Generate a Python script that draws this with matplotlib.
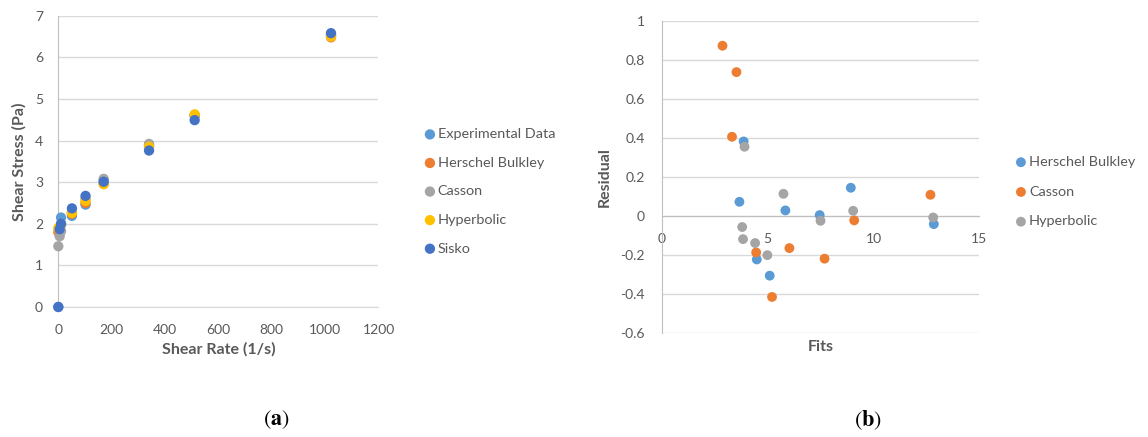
import numpy as np
import matplotlib.pyplot as plt

plt.rcParams['font.family'] = ['Lato', 'DejaVu Sans']
plt.rcParams['axes.unicode_minus'] = False

# (a) flow curve: shear rate vs shear stress
shear_rate = [0, 5.1, 10.2, 51, 102, 170, 340, 511, 1022]
experimental = [0, 1.88, 2.15, 2.19, 2.46, 3.04, 3.90, 4.60, 6.55]
herschel_bulkley = [1.80, 1.88, 1.98, 2.24, 2.50, 2.96, 3.86, 4.60, 6.48]
casson = [1.46, 1.70, 1.82, 2.28, 2.60, 3.08, 3.92, 4.60, 6.52]
hyperbolic = [1.90, 1.92, 1.99, 2.26, 2.55, 2.95, 3.85, 4.63, 6.50]
sisko = [0, 1.87, 2.00, 2.37, 2.67, 3.01, 3.76, 4.49, 6.58]

# (b) residuals vs fits
hb_fits = [3.87, 3.67, 4.49, 5.10, 5.84, 7.46, 8.93, 12.85]
hb_resid = [0.382, 0.073, -0.222, -0.305, 0.029, 0.005, 0.145, -0.041]
casson_fits = [2.87, 3.53, 3.32, 4.46, 5.21, 6.03, 7.69, 9.09, 12.69]
casson_resid = [0.872, 0.737, 0.406, -0.186, -0.414, -0.164, -0.218, -0.022, 0.109]
hyp_fits = [3.91, 3.80, 3.84, 4.41, 4.99, 5.75, 7.50, 9.04, 12.82]
hyp_resid = [0.355, -0.056, -0.118, -0.138, -0.200, 0.114, -0.024, 0.027, -0.007]

BLUE = '#5B9BD5'
ORANGE = '#ED7D31'
GRAY = '#A5A5A5'
YELLOW = '#FFC000'
DARK_BLUE = '#4472C4'
TEXT = '#595959'
GRID = '#D9D9D9'


def style_axes(ax):
    for side in ['top', 'right']:
        ax.spines[side].set_visible(False)
    ax.spines['left'].set_color('#BFBFBF')
    ax.spines['bottom'].set_color('#BFBFBF')
    ax.grid(True, axis='y', color=GRID, linewidth=1)
    ax.set_axisbelow(True)
    ax.tick_params(length=0, colors=TEXT, labelsize=10)


fig = plt.figure(figsize=(11.48, 4.37), dpi=100)

# ---- left chart ----
ax1 = fig.add_axes([0.0508, 0.2975, 0.2789, 0.6666])
style_axes(ax1)
series = [
    (experimental, BLUE, 'Experimental Data'),
    (herschel_bulkley, ORANGE, 'Herschel Bulkley'),
    (casson, GRAY, 'Casson'),
    (hyperbolic, YELLOW, 'Hyperbolic'),
    (sisko, DARK_BLUE, 'Sisko'),
]
for values, color, label in series:
    ax1.scatter(shear_rate, values, s=55, color=color, label=label,
                edgecolors='none', clip_on=False, zorder=3)
ax1.set_xlim(0, 1200)
ax1.set_ylim(0, 7)
ax1.set_xticks(np.arange(0, 1201, 200))
ax1.set_yticks(np.arange(0, 8, 1))
ax1.tick_params(axis='x', pad=12)
ax1.tick_params(axis='y', pad=11)
ax1.spines['bottom'].set_color(GRID)
ax1.set_xlabel('Shear Rate (1/s)', fontsize=11.5, fontweight='bold', color=TEXT)
ax1.set_ylabel('Shear Stress (Pa)', fontsize=11.5, fontweight='bold', color=TEXT)
ax1.xaxis.set_label_coords(0.5, -0.122)
ax1.yaxis.set_label_coords(-0.10, 0.5)
ax1.legend(loc='upper left', bbox_to_anchor=(1.12, 0.634), frameon=False,
           fontsize=10.4, labelcolor=TEXT, handletextpad=0.05,
           handlelength=1.0, labelspacing=1.14, borderaxespad=0)

# ---- right chart ----
ax2 = fig.add_axes([0.5764, 0.2373, 0.2767, 0.7153])
style_axes(ax2)
ax2.scatter(hb_fits, hb_resid, s=50, color=BLUE, label='Herschel Bulkley',
            edgecolors='none', zorder=3)
ax2.scatter(casson_fits, casson_resid, s=50, color=ORANGE, label='Casson',
            edgecolors='none', zorder=3)
ax2.scatter(hyp_fits, hyp_resid, s=50, color=GRAY, label='Hyperbolic',
            edgecolors='none', zorder=3)
ax2.set_xlim(0, 15)
ax2.set_ylim(-0.6, 1.0)
ax2.set_xticks([0, 5, 10, 15])
ax2.set_yticks(np.arange(-0.6, 1.01, 0.2))
ax2.yaxis.set_major_formatter(plt.FuncFormatter(lambda v, p: f'{round(v, 1):g}'))
ax2.spines['bottom'].set_position(('data', 0))
ax2.tick_params(axis='x', pad=12)
ax2.tick_params(axis='y', pad=12)
ax2.set_xlabel('Fits', fontsize=11.5, fontweight='bold', color=TEXT)
ax2.set_ylabel('Residual', fontsize=11.5, fontweight='bold', color=TEXT)
ax2.xaxis.set_label_coords(0.5, -0.022)
ax2.yaxis.set_label_coords(-0.158, 0.5)
ax2.legend(loc='upper left', bbox_to_anchor=(1.09, 0.586), frameon=False,
           fontsize=10.4, labelcolor=TEXT, handletextpad=0.05,
           handlelength=1.0, labelspacing=1.22, borderaxespad=0)

# captions
fig.text(0.2404, 0.039, r'($\mathbf{a}$)', fontsize=16, family='STIXGeneral',
         ha='center', va='center', math_fontfamily='stix')
fig.text(0.756, 0.039, r'($\mathbf{b}$)', fontsize=16, family='STIXGeneral',
         ha='center', va='center', math_fontfamily='stix')

fig.savefig('out.png', dpi=100)
